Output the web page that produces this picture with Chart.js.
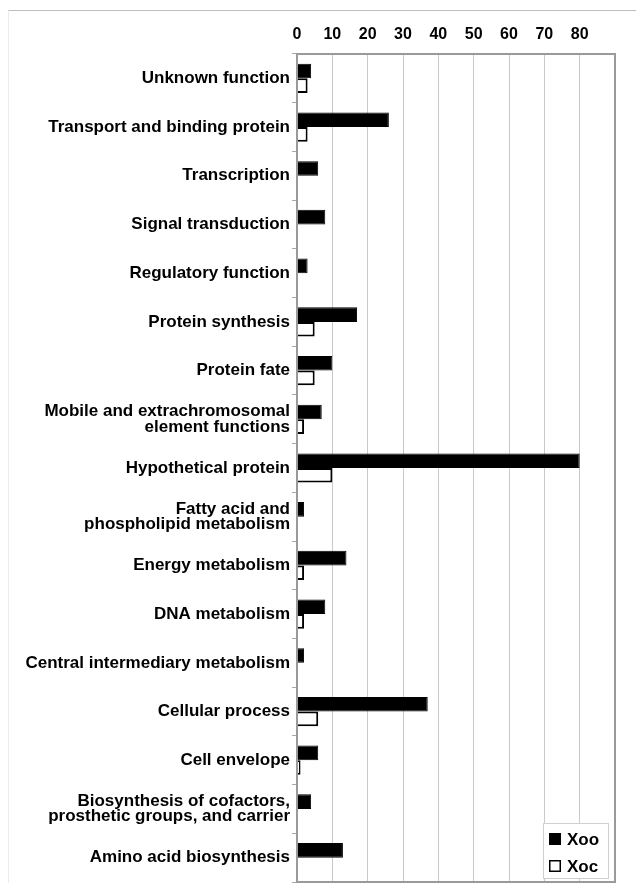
<!DOCTYPE html>
<html>
<head>
<meta charset="utf-8">
<script src="https://cdn.jsdelivr.net/npm/chart.js@4/dist/chart.umd.min.js"></script>
<style>
    body { margin: 0; background: #fff; }
    #wrap { position: relative; width: 636px; height: 883px; }
    #frame {
        position: absolute; left: 8px; top: 10px; right: 0; bottom: 0;
        border-top: 1px solid #bdbdbd; border-left: 1px solid #ececec;
    }
    #funcChart { position: absolute; left: 0; top: 0; }
</style>
</head>
<body>
<div id="wrap">
    <div id="frame"></div>
    <canvas id="funcChart" width="636" height="883"></canvas>
</div>
<script>
const Categories = [
    "Unknown function",
    "Transport and binding protein",
    "Transcription",
    "Signal transduction",
    "Regulatory function",
    "Protein synthesis",
    "Protein fate",
    ["Mobile and extrachromosomal", "element functions"],
    "Hypothetical protein",
    ["Fatty acid and", "phospholipid metabolism"],
    "Energy metabolism",
    "DNA metabolism",
    "Central intermediary metabolism",
    "Cellular process",
    "Cell envelope",
    ["Biosynthesis of cofactors,", "prosthetic groups, and carrier"],
    "Amino acid biosynthesis",
];

const XooCounts = [4, 26, 6, 8, 3, 17, 10, 7, 80, 2, 14, 8, 2, 37, 6, 4, 13];
const XocCounts = [3, 3, 0, 0, 0, 5, 5, 2, 10, 0, 2, 2, 0, 6, 1, 0, 0];

const AxisTicks = [0, 10, 20, 30, 40, 50, 60, 70, 80];
const AxisMax = 90;

const FontFamily = "Arial, 'Liberation Sans', Helvetica, sans-serif";

// grey box round the plot area
const plotFrame = {
    id: "plotFrame",
    afterDatasetsDraw(chart) {
        const { ctx, chartArea: a } = chart;
        ctx.save();
        ctx.strokeStyle = "#9a9a9a";
        ctx.lineWidth = 2;
        ctx.strokeRect(a.left, a.top, a.right - a.left, a.bottom - a.top);
        ctx.restore();
    }
};

// legend box sits inside the plot, bottom right
const cornerLegend = {
    id: "cornerLegend",
    afterDraw(chart) {
        const { ctx, chartArea: a } = chart;
        const w = 65, h = 55;
        const x = a.right - 7 - w;
        const y = a.bottom - 4 - h;

        ctx.save();
        ctx.fillStyle = "#fff";
        ctx.fillRect(x, y, w, h);
        ctx.strokeStyle = "#cfcfcf";
        ctx.lineWidth = 1;
        ctx.strokeRect(x + 0.5, y + 0.5, w, h);

        ctx.font = "bold 17px " + FontFamily;
        ctx.textBaseline = "middle";
        chart.data.datasets.forEach((ds, i) => {
            const sy = y + 10 + i * 27;
            ctx.fillStyle = ds.backgroundColor;
            ctx.fillRect(x + 6, sy, 12, 12);
            ctx.strokeStyle = "#000";
            ctx.lineWidth = 1.5;
            ctx.strokeRect(x + 6.75, sy + 0.75, 10.5, 10.5);
            ctx.fillStyle = "#000";
            ctx.fillText(ds.label, x + 24, sy + 7);
        });
        ctx.restore();
    }
};

const configObject = {
    type: "bar",
    data: {
        labels: Categories,
        datasets: [
            {
                label: "Xoo",
                data: XooCounts,
                backgroundColor: "#000",
                borderColor: "#000",
                borderWidth: 1,
            },
            {
                label: "Xoc",
                data: XocCounts,
                backgroundColor: "#fff",
                borderColor: "#000",
                borderWidth: 2,
            }
        ]
    },
    options: {
        indexAxis: "y",
        responsive: false,
        animation: false,
        devicePixelRatio: 1,
        categoryPercentage: 0.6,
        barPercentage: 1,
        layout: { padding: { top: 0, right: 21, bottom: 1, left: 0 } },
        plugins: {
            legend: { display: false },
            tooltip: { enabled: false },
        },
        scales: {
            x: {
                position: "top",
                min: 0,
                max: AxisMax,
                afterBuildTicks: scale => {
                    scale.ticks = AxisTicks.concat([AxisMax]).map(v => ({ value: v }));
                },
                afterFit: scale => { scale.height = 54; },
                ticks: {
                    color: "#000",
                    font: { family: FontFamily, size: 16, weight: "bold" },
                    padding: 10,
                    callback: v => (AxisTicks.includes(v) ? v : ""),
                },
                grid: { color: "#c9c9c9", drawTicks: false },
                border: { display: false },
            },
            y: {
                afterFit: scale => {
                    scale.width = 297;
                    // labels are allowed to reach the canvas edge
                    scale.paddingTop = 0;
                    scale.paddingBottom = 0;
                },
                ticks: {
                    color: "#000",
                    font: { family: FontFamily, size: 17, weight: "bold", lineHeight: 0.92 },
                    padding: 2,
                },
                grid: {
                    offset: true,
                    drawOnChartArea: false,
                    tickLength: 5,
                    color: "#a8a8a8",
                },
                border: { display: false },
            }
        }
    },
    plugins: [plotFrame, cornerLegend],
};

new Chart(document.getElementById("funcChart"), configObject);
</script>
</body>
</html>
